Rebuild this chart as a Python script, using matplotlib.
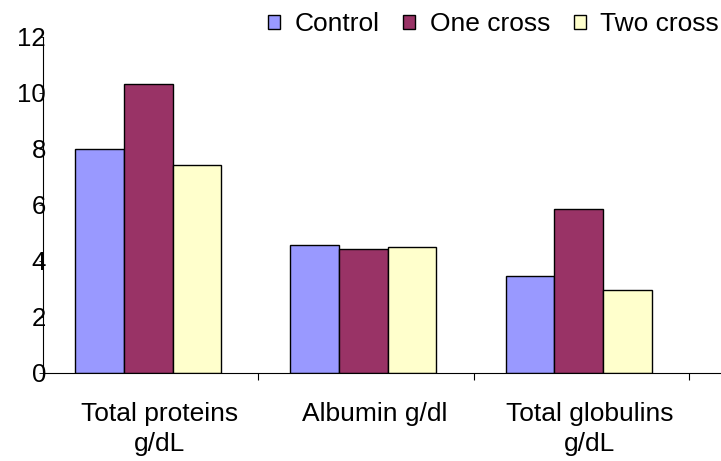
import numpy as np
import matplotlib.pyplot as plt
from matplotlib.patches import Patch

categories = ["Total proteins\ng/dL", "Albumin g/dl", "Total globulins\ng/dL"]
series_names = ["Control", "One cross", "Two cross"]
control = [8.0, 4.57, 3.45]
one_cross = [10.3, 4.43, 5.85]
two_cross = [7.43, 4.5, 2.96]
colors = ["#9999FF", "#993366", "#FFFFCC"]

plt.rcParams['font.family'] = ['Liberation Sans', 'DejaVu Sans']


def draw_chart(filename: str = "out.png") -> None:
    fig = plt.figure(figsize=(7.21, 4.61), dpi=100)
    ax = fig.add_axes([0.06, 0.191, 0.94, 0.729])

    x = np.arange(len(categories))
    width = 0.226
    shift = -0.012
    for i, (vals, col) in enumerate(zip([control, one_cross, two_cross], colors)):
        ax.bar(x + (i - 1) * width + shift, vals, width, color=col, edgecolor="black",
               linewidth=1.0, label=series_names[i])

    ax.set_ylim(0, 12)
    ax.set_xlim(-0.5, 2.65)
    ax.set_yticks(range(0, 13, 2))
    ax.set_yticklabels([str(v) for v in range(0, 13, 2)], fontsize=18.5)
    ax.tick_params(axis="y", length=3, pad=-5, width=0.6)

    ax.set_xticks(x + 0.04)
    ax.set_xticklabels(categories, fontsize=19, linespacing=1.3)
    ax.tick_params(axis="x", length=0, pad=21)
    ax.set_xticks([0.5, 1.5, 2.5], minor=True)
    ax.tick_params(axis="x", which="minor", length=5, width=0.8, direction="out")

    for side in ["top", "right"]:
        ax.spines[side].set_visible(False)
    ax.spines["left"].set_linewidth(0.8)
    ax.spines["bottom"].set_linewidth(0.8)

    handles = [Patch(facecolor=c, edgecolor="black", linewidth=1.0) for c in colors]
    fig.legend(handles, series_names, loc="upper right", bbox_to_anchor=(1.03, 1.025),
               ncol=3, frameon=False, fontsize=19, handlelength=0.45, handleheight=0.45,
               handletextpad=0.55, columnspacing=0.9)

    fig.savefig(filename, dpi=100)
    plt.close(fig)


if __name__ == "__main__":
    draw_chart()
